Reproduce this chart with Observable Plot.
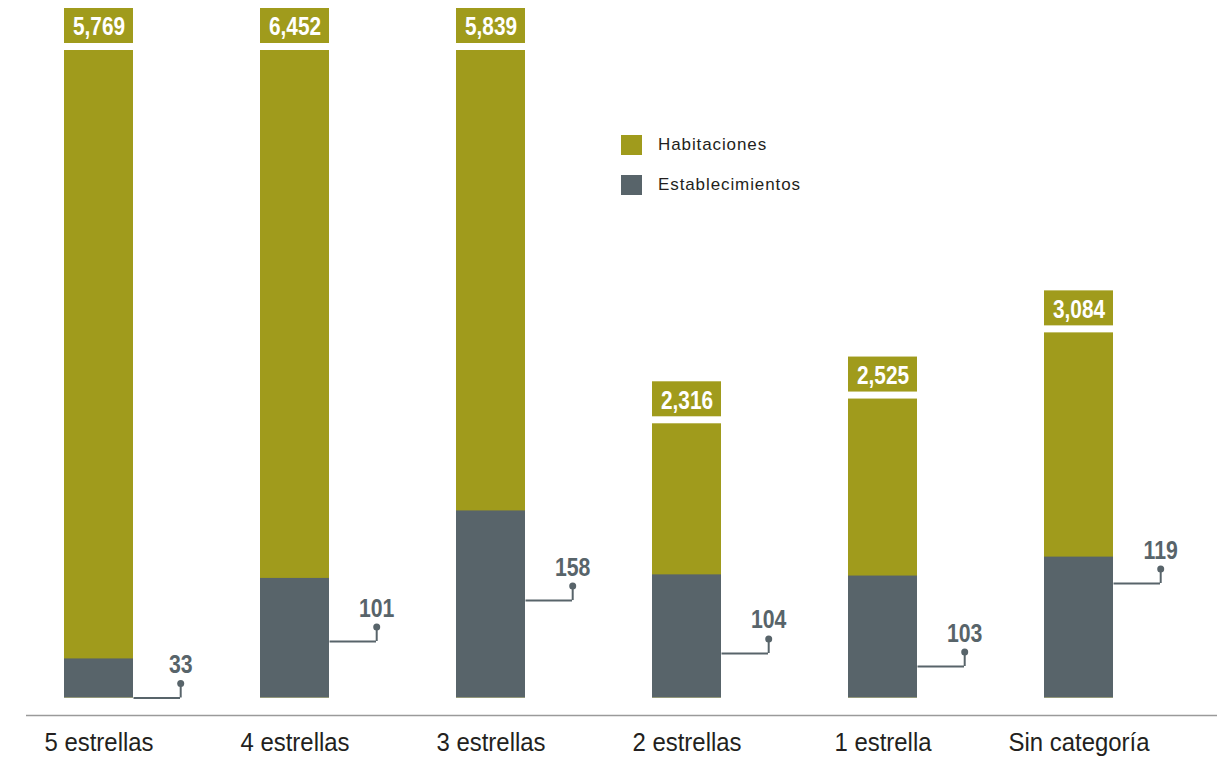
<!DOCTYPE html>
<html>
<head>
<meta charset="utf-8">
<script src="https://cdn.jsdelivr.net/npm/d3@7"></script>
<script src="https://cdn.jsdelivr.net/npm/@observablehq/plot@0.6"></script>
<style>
  html, body { margin: 0; padding: 0; background: #fff; }
  #wrap { position: relative; width: 1230px; height: 762px; }
  .legend { position: absolute; left: 621px; top: 135px; font-family: "Liberation Sans", Arial, sans-serif; font-size: 17px; letter-spacing: 0.9px; color: #231f20; }
  .legend .item { display: flex; align-items: center; height: 20px; margin-bottom: 20px; }
  .legend .sw { width: 21px; height: 20px; margin-right: 16px; }
</style>
</head>
<body>
<div id="wrap"></div>
<script>
// Data
const categories = ["5 estrellas", "4 estrellas", "3 estrellas", "2 estrellas", "1 estrella", "Sin categoría"];
const habitaciones = [5769, 6452, 5839, 2316, 2525, 3084];
const establecimientos = [33, 101, 158, 104, 103, 119];
// level (in establishments) where each callout leader leaves the bar
const calloutAt = [0, 47.7, 82.3, 37.6, 26.6, 96.7];

const olive = "#a09b1c";
const slate = "#58646a";
const estRatio = 10;       // establishments drawn at 10x the rooms scale
const yMax = 5469;         // top of the plotting area (taller bars are cut)

const rows = categories.map((c, i) => ({
  cat: c,
  hab: habitaciones[i],
  habTop: Math.min(habitaciones[i], yMax),
  est: establecimientos[i],
  estY: establecimientos[i] * estRatio,
  callY: calloutAt[i] * estRatio
}));

const font = "'Liberation Sans', Arial, sans-serif";
const bw = 69.5;

const chart = Plot.plot({
  width: 1230,
  height: 762,
  marginTop: 50,
  marginBottom: 64.5,
  marginLeft: 26,
  marginRight: 13,
  style: { fontFamily: font, background: "#fff" },
  x: { domain: categories, paddingInner: 0.6456, paddingOuter: 0, insetLeft: 37.5, insetRight: 103.2, axis: null },
  y: { domain: [0, yMax], axis: null },
  marks: [
    Plot.ruleY([0], { dy: 17.5, stroke: "#9a9a9a", strokeWidth: 1.5 }),
    Plot.barY(rows, { x: "cat", y: "habTop", fill: olive }),
    Plot.barY(rows, { x: "cat", y: "estY", fill: slate }),
    // label boxes above the room bars
    Plot.barY(rows, { x: "cat", y1: "habTop", y2: "habTop", fill: olive, insetTop: -42, insetBottom: 7 }),
    Plot.text(rows, { x: "cat", y: "habTop", text: d => d3.format(",")(d.hab), dy: -23.5, fill: "#fff", fontSize: 26, fontWeight: "bold", lineAnchor: "middle" }),
    // callouts for establishments
    Plot.tickY(rows, { x: "cat", y: "callY", dx: bw, insetRight: 22.5, stroke: slate, strokeWidth: 2 }),
    Plot.ruleX(rows, { x: "cat", y1: "callY", y2: "callY", insetBottom: 14.5, dx: 81.7, stroke: slate, strokeWidth: 2 }),
    Plot.dot(rows, { x: "cat", y: "callY", dx: 81.7, dy: -14.5, r: 3.5, fill: slate }),
    Plot.text(rows, { x: "cat", y: "callY", text: d => String(d.est), dx: 81.7, dy: -33, fill: slate, fontSize: 25, fontWeight: "bold", lineAnchor: "middle" }),
    // category labels
    Plot.text(rows, { x: "cat", y: 0, text: "cat", dy: 45, fill: "#231f20", fontSize: 26, lineAnchor: "middle" })
  ]
});

const wrap = document.getElementById("wrap");
wrap.appendChild(chart);

// condense the glyphs (the original uses a condensed typeface)
const factors = [0.8, 0.85, 0.92];
d3.select(chart).selectAll('g[aria-label="text"]').each(function (_, gi) {
  const f = factors[gi] ?? 1;
  d3.select(this).selectAll("text").each(function () {
    const len = this.getComputedTextLength();
    this.setAttribute("textLength", (len * f).toFixed(2));
    this.setAttribute("lengthAdjust", "spacingAndGlyphs");
  });
});

const legend = document.createElement("div");
legend.className = "legend";
legend.innerHTML = [["Habitaciones", olive], ["Establecimientos", slate]]
  .map(([t, c]) => `<div class="item"><span class="sw" style="background:${c}"></span><span>${t}</span></div>`).join("");
wrap.appendChild(legend);
</script>
</body>
</html>
